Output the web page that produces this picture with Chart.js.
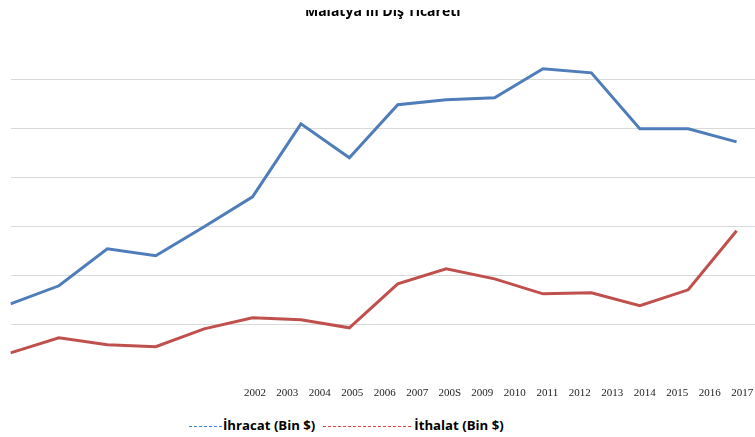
<!DOCTYPE html>
<html>
<head>
<meta charset="utf-8">
<script src="https://cdn.jsdelivr.net/npm/chart.js@4"></script>
<style>
  body { margin: 0; width: 755px; height: 437px; overflow: hidden; background: #fff; position: relative; }
  #clip { position: absolute; left: 0; top: 10px; width: 755px; height: 402px; overflow: hidden; }
  #wrap { position: absolute; left: 0; top: -8px; width: 755px; height: 410px; }
  #legend { position: absolute; left: 189px; top: 415px; height: 20px; display: flex; align-items: center;
            font-family: "Open Sans", sans-serif; font-weight: bold; font-size: 13.2px; color: #000; white-space: nowrap; }
  #legend .dash { display: inline-block; height: 1px; margin-top: 2px; }
</style>
</head>
<body>
<div id="clip"><div id="wrap"><canvas id="chart" width="755" height="410"></canvas></div></div>
<div id="legend"></div>
<script>
// Malatya ili dış ticareti, Bin $
const years = [2002, 2003, 2004, 2005, 2006, 2007, 2008, 2009, 2010, 2011, 2012, 2013, 2014, 2015, 2016, 2017];
const tickLabels = ['2002', '2003', '2004', '2005', '2006', '2007', '200S', '2009', '2010', '2011', '2012', '2013', '2014', '2015', '2016', '2017'];
const ihracat = [71400, 89800, 127600, 120400, 150000, 180600, 255100, 220400, 274500, 279600, 281600, 311200, 307100, 250000, 250000, 236700];
const ithalat = [21400, 36700, 29600, 27600, 45900, 57100, 55100, 46900, 91800, 107100, 96900, 81600, 82700, 69400, 85700, 145900];
const seriesNames = ['İhracat (Bin $)', 'İthalat (Bin $)'];

const BLUE = '#4f7db9', RED = '#c0504d';

const toPoints = vals => years.map((yr, i) => ({ x: yr, y: vals[i] }));

const chart = new Chart(document.getElementById('chart'), {
  type: 'line',
  data: {
    datasets: [
      { label: seriesNames[0], data: toPoints(ihracat), borderColor: BLUE, backgroundColor: BLUE, borderWidth: 3, pointRadius: 0, tension: 0, xAxisID: 'x' },
      { label: seriesNames[1], data: toPoints(ithalat), borderColor: RED, backgroundColor: RED, borderWidth: 3, pointRadius: 0, tension: 0, xAxisID: 'x' }
    ]
  },
  options: {
    responsive: false,
    animation: false,
    layout: { padding: { left: 10.5, right: 0, top: 0, bottom: 0 } },
    plugins: {
      legend: { display: false },
      tooltip: { enabled: false },
      title: { display: true, text: 'Malatya İli Dış Ticareti', color: '#000',
               font: { family: 'Open Sans', weight: 'bold', size: 14 }, padding: { top: 1.5, bottom: 10.5 } }
    },
    scales: {
      x: { type: 'linear', display: false, min: 2002, max: 2017.38 },
      xl: {
        type: 'linear', position: 'bottom', min: 1994.48, max: 2017.39,
        grid: { display: false, drawTicks: false }, border: { display: false },
        afterBuildTicks: axis => { axis.ticks = years.map(v => ({ value: v })); },
        afterFit: axis => { axis.paddingLeft = 0; axis.paddingRight = 0; },
        ticks: { autoSkip: false, maxRotation: 0, padding: 12.5, color: '#222',
                 font: { family: 'Liberation Serif', size: 11 },
                 callback: v => tickLabels[years.indexOf(v)] }
      },
      y: {
        min: 0, max: 350000,
        border: { display: false },
        ticks: { display: false, stepSize: 50000 },
        grid: { drawTicks: false, lineWidth: 1,
                color: c => (c.tick.value === 0 || c.tick.value === 350000) ? 'rgba(0,0,0,0)' : '#d9d9d9' }
      }
    }
  }
});

// legend drawn as html below the canvas
const dashWidths = [33, 90];
const dashColors = ['#3f86d8', '#e04444'];
const legendEl = document.getElementById('legend');
chart.data.datasets.forEach((ds, i) => {
  const d = document.createElement('span');
  d.className = 'dash';
  d.style.width = dashWidths[i] + 'px';
  d.style.background = `repeating-linear-gradient(to right, ${dashColors[i]} 0 3px, transparent 3px 5px)`;
  const t = document.createElement('span');
  t.textContent = ds.label;
  t.style.marginLeft = '1px';
  t.style.marginRight = i === 0 ? '8px' : '0';
  legendEl.appendChild(d); legendEl.appendChild(t);
});
</script>
</body>
</html>
